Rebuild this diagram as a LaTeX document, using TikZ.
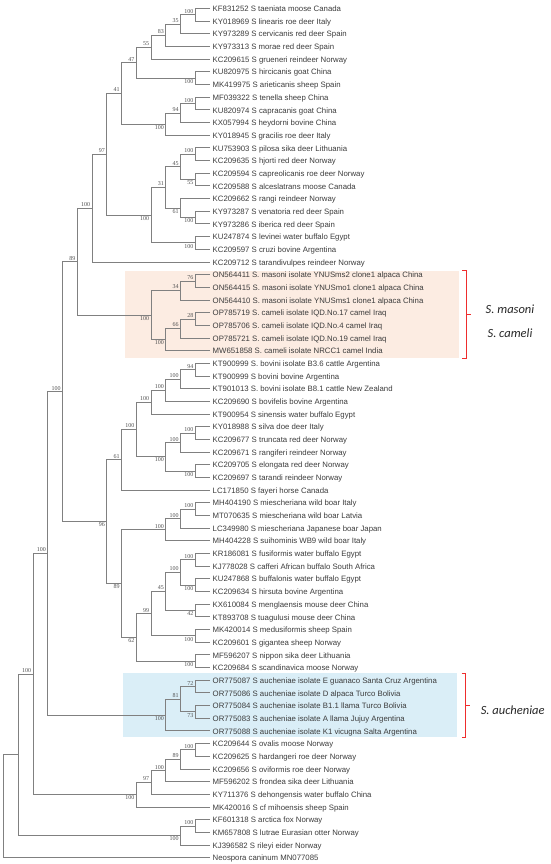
\documentclass[tikz,border=0pt]{standalone}
\usepackage{fontspec}
\setmainfont{Liberation Sans}
\newfontfamily\bootfont{Liberation Serif}
\newfontfamily\cladefont{Carlito}
\usetikzlibrary{calc}
\definecolor{branchgray}{RGB}{128,128,128}
\definecolor{labelgray}{RGB}{60,60,60}
\definecolor{bootgray}{RGB}{80,80,80}
\definecolor{peach}{RGB}{252,236,226}
\definecolor{paleblue}{RGB}{218,238,247}
\definecolor{bracketred}{RGB}{238,45,45}

\tikzset{
  branch/.style={draw=branchgray, line width=0.6pt},
  leaflab/.style={anchor=west, inner sep=1pt, xshift=1.5pt, text height=1.5ex, text depth=.25ex,
    font=\fontsize{7.8}{8}\selectfont, text=labelgray},
  boot/.style={inner sep=0.6pt, font=\bootfont\fontsize{6}{6}\selectfont, text=bootgray},
  lbup/.style={anchor=south east, xshift=-1pt, yshift=0.5pt},
  lbdn/.style={anchor=north east, xshift=-1pt, yshift=-0.5pt},
  cladelab/.style={font=\cladefont\itshape\fontsize{12.5}{13}\selectfont, text=black!85},
  brace/.style={draw=bracketred, line width=0.8pt},
}

% clade: name, level, upper child, lower child, support, side
\newcommand\clade[6]{%
  \coordinate (#1m) at ($(#3)!0.5!(#4)$);
  \coordinate (#1) at (#1m -| lev#2);
  \draw[branch] (#3) -| (#1) |- (#4);
  \node[boot,#6] (#1b) at (#1) {#5};
}

\begin{document}
\begin{tikzpicture}[x=1pt,y=-1pt]
  \useasboundingbox (0,0) rectangle (550,864);

  % Highlighted groups
  \fill[peach] (125,271) rectangle (459,358.3);
  \fill[paleblue] (122.7,673.3) rectangle (456.7,737.3);

  % Levels of the cladogram
  \foreach \k in {0,...,13}
    \coordinate (lev\k) at ({3.3+14.75*\k},0);

  % Leaves
  \foreach \txt [count=\i] in {
    KF831252 S taeniata moose Canada,
    KY018969 S linearis roe deer Italy,
    KY973289 S cervicanis red deer Spain,
    KY973313 S morae red deer Spain,
    KC209615 S grueneri reindeer Norway,
    KU820975 S hircicanis goat China,
    MK419975 S arieticanis sheep Spain,
    MF039322 S tenella sheep China,
    KU820974 S capracanis goat China,
    KX057994 S heydorni bovine China,
    KY018945 S gracilis roe deer Italy,
    KU753903 S pilosa sika deer Lithuania,
    KC209635 S hjorti red deer Norway,
    KC209594 S capreolicanis roe deer Norway,
    KC209588 S alceslatrans moose Canada,
    KC209662 S rangi reindeer Norway,
    KY973287 S venatoria red deer Spain,
    KY973286 S iberica red deer Spain,
    KU247874 S levinei water buffalo Egypt,
    KC209597 S cruzi bovine Argentina,
    KC209712 S tarandivulpes reindeer Norway,
    ON564411 S. masoni isolate YNUSms2 clone1 alpaca China,
    ON564415 S. masoni isolate YNUSmo1 clone1 alpaca China,
    ON564410 S. masoni isolate YNUSms1 clone1 alpaca China,
    OP785719 S. cameli isolate IQD.No.17 camel Iraq,
    OP785706 S. cameli isolate IQD.No.4 camel Iraq,
    OP785721 S. cameli isolate IQD.No.19 camel Iraq,
    MW651858 S. cameli isolate NRCC1 camel India,
    KT900999 S. bovini isolate B3.6 cattle Argentina,
    KT900999 S bovini bovine Argentina,
    KT901013 S. bovini isolate B8.1 cattle New Zealand,
    KC209690 S bovifelis bovine Argentina,
    KT900954 S sinensis water buffalo Egypt,
    KY018988 S silva doe deer Italy,
    KC209677 S truncata red deer Norway,
    KC209671 S rangiferi reindeer Norway,
    KC209705 S elongata red deer Norway,
    KC209697 S tarandi reindeer Norway,
    LC171850 S fayeri horse Canada,
    MH404190 S miescheriana wild boar Italy,
    MT070635 S miescheriana wild boar Latvia,
    LC349980 S miescheriana Japanese boar Japan,
    MH404228 S suihominis WB9 wild boar Italy,
    KR186081 S fusiformis water buffalo Egypt,
    KJ778028 S cafferi African buffalo South Africa,
    KU247868 S buffalonis water buffalo Egypt,
    KC209634 S hirsuta bovine Argentina,
    KX610084 S menglaensis mouse deer China,
    KT893708 S tuagulusi mouse deer China,
    MK420014 S medusiformis sheep Spain,
    KC209601 S gigantea sheep Norway,
    MF596207 S nippon sika deer Lithuania,
    KC209684 S scandinavica moose Norway,
    OR775087 S aucheniae isolate E guanaco Santa Cruz Argentina,
    OR775086 S aucheniae isolate D alpaca Turco Bolivia,
    OR775084 S aucheniae isolate B1.1 llama Turco Bolivia,
    OR775083 S aucheniae isolate A llama Jujuy Argentina,
    OR775088 S aucheniae isolate K1 vicugna Salta Argentina,
    KC209644 S ovalis moose Norway,
    KC209625 S hardangeri roe deer Norway,
    KC209656 S oviformis roe deer Norway,
    MF596202 S frondea sika deer Lithuania,
    KY711376 S dehongensis water buffalo China,
    MK420016 S cf mihoensis sheep Spain,
    KF601318 S arctica fox Norway,
    KM657808 S lutrae Eurasian otter Norway,
    KJ396582 S rileyi eider Norway,
    Neospora caninum MN077085}
  {
    \coordinate (l\i) at (210,{8.3+12.675*(\i-1)});
    \node[leaflab] (t\i) at (l\i) {\txt};
  }

  % Upper clade
  \clade{a1}{13}{l1}{l2}{100}{lbup}
  \clade{a2}{12}{a1}{l3}{35}{lbup}
  \clade{a3}{11}{a2}{l4}{83}{lbup}
  \clade{a4}{10}{a3}{l5}{55}{lbup}
  \clade{a5}{13}{l6}{l7}{100}{lbdn}
  \clade{a6}{9}{a4}{a5}{47}{lbup}
  \clade{a7}{13}{l8}{l9}{100}{lbup}
  \clade{a8}{12}{a7}{l10}{94}{lbup}
  \clade{a9}{11}{a8}{l11}{100}{lbdn}
  \clade{a10}{8}{a6}{a9}{41}{lbup}
  \clade{b1}{13}{l12}{l13}{100}{lbup}
  \clade{b2}{13}{l14}{l15}{55}{lbdn}
  \clade{b3}{12}{b1}{b2}{45}{lbup}
  \clade{b4}{13}{l17}{l18}{100}{lbdn}
  \clade{b5}{12}{l16}{b4}{61}{lbdn}
  \clade{b6}{11}{b3}{b5}{31}{lbup}
  \clade{b7}{13}{l19}{l20}{100}{lbdn}
  \clade{b8}{10}{b6}{b7}{100}{lbdn}
  \clade{c1}{7}{a10}{b8}{97}{lbup}
  \clade{c2}{6}{c1}{l21}{100}{lbup}

  % S. masoni / S. cameli
  \clade{m1}{13}{l22}{l23}{76}{lbup}
  \clade{m2}{12}{m1}{l24}{34}{lbup}
  \clade{m3}{13}{l25}{l26}{28}{lbup}
  \clade{m4}{12}{m3}{l27}{66}{lbup}
  \clade{m5}{11}{m4}{l28}{100}{lbdn}
  \clade{m6}{10}{m2}{m5}{100}{lbdn}
  \clade{c3}{5}{c2}{m6}{89}{lbup}

  % Middle clade
  \clade{d1}{13}{l29}{l30}{94}{lbup}
  \clade{d2}{12}{d1}{l31}{100}{lbup}
  \clade{d3}{11}{d2}{l32}{100}{lbup}
  \clade{d4}{10}{d3}{l33}{100}{lbup}
  \clade{d5}{13}{l34}{l35}{100}{lbup}
  \clade{d6}{12}{d5}{l36}{100}{lbup}
  \clade{d7}{13}{l37}{l38}{100}{lbdn}
  \clade{d8}{11}{d6}{d7}{100}{lbdn}
  \clade{d9}{9}{d4}{d8}{100}{lbup}
  \clade{d10}{8}{d9}{l39}{61}{lbup}
  \clade{e1}{13}{l40}{l41}{100}{lbup}
  \clade{e2}{12}{e1}{l42}{100}{lbup}
  \clade{e3}{11}{e2}{l43}{100}{lbup}
  \clade{e4}{13}{l44}{l45}{100}{lbup}
  \clade{e5}{13}{l46}{l47}{100}{lbdn}
  \clade{e6}{12}{e4}{e5}{100}{lbup}
  \clade{e7}{13}{l48}{l49}{42}{lbdn}
  \clade{e8}{11}{e6}{e7}{45}{lbup}
  \clade{e9}{13}{l50}{l51}{100}{lbdn}
  \clade{e10}{10}{e8}{e9}{99}{lbup}
  \clade{e11}{13}{l52}{l53}{100}{lbdn}
  \clade{e12}{9}{e10}{e11}{62}{lbdn}
  \clade{e13}{8}{e3}{e12}{89}{lbdn}
  \clade{e14}{7}{d10}{e13}{96}{lbdn}
  \clade{c4}{4}{c3}{e14}{100}{lbup}

  % S. aucheniae
  \clade{u1}{13}{l54}{l55}{72}{lbup}
  \clade{u2}{13}{l56}{l57}{73}{lbdn}
  \clade{u3}{12}{u1}{u2}{81}{lbup}
  \clade{u4}{11}{u3}{l58}{100}{lbdn}
  \clade{c5}{3}{c4}{u4}{100}{lbup}

  % Lower clades
  \clade{f1}{13}{l59}{l60}{100}{lbup}
  \clade{f2}{12}{f1}{l61}{89}{lbup}
  \clade{f3}{11}{f2}{l62}{100}{lbup}
  \clade{f4}{10}{f3}{l63}{97}{lbup}
  \clade{f5}{9}{f4}{l64}{100}{lbdn}
  \clade{c6}{2}{c5}{f5}{100}{lbup}
  \clade{g1}{13}{l65}{l66}{100}{lbup}
  \clade{g2}{12}{g1}{l67}{100}{lbdn}

  % Root (no support values)
  \coordinate (c7m) at ($(c6)!0.5!(g2)$);
  \coordinate (c7) at (c7m -| lev1);
  \draw[branch] (c6) -| (c7) |- (g2);
  \coordinate (rootm) at ($(c7)!0.5!(l68)$);
  \coordinate (root) at (rootm -| lev0);
  \draw[branch] (c7) -| (root) |- (l68);

  % Brackets and species names
  \draw[brace] (462,270) -- (466.5,270) -- (466.5,358.3) -- (462,358.3);
  \draw[brace] (466.5,314.3) -- (470.5,314.3);
  \node[cladelab] (masoni) at (510,309.5) {S. masoni};
  \node[cladelab] (cameli) at (510,333) {S. cameli};

  \draw[brace] (461.7,673.3) -- (465.7,673.3) -- (465.7,737.3) -- (461.7,737.3);
  \draw[brace] (465.7,705.3) -- (469.5,705.3);
  \node[cladelab] (aucheniae) at (512.7,710) {S. aucheniae};
\end{tikzpicture}
\end{document}
